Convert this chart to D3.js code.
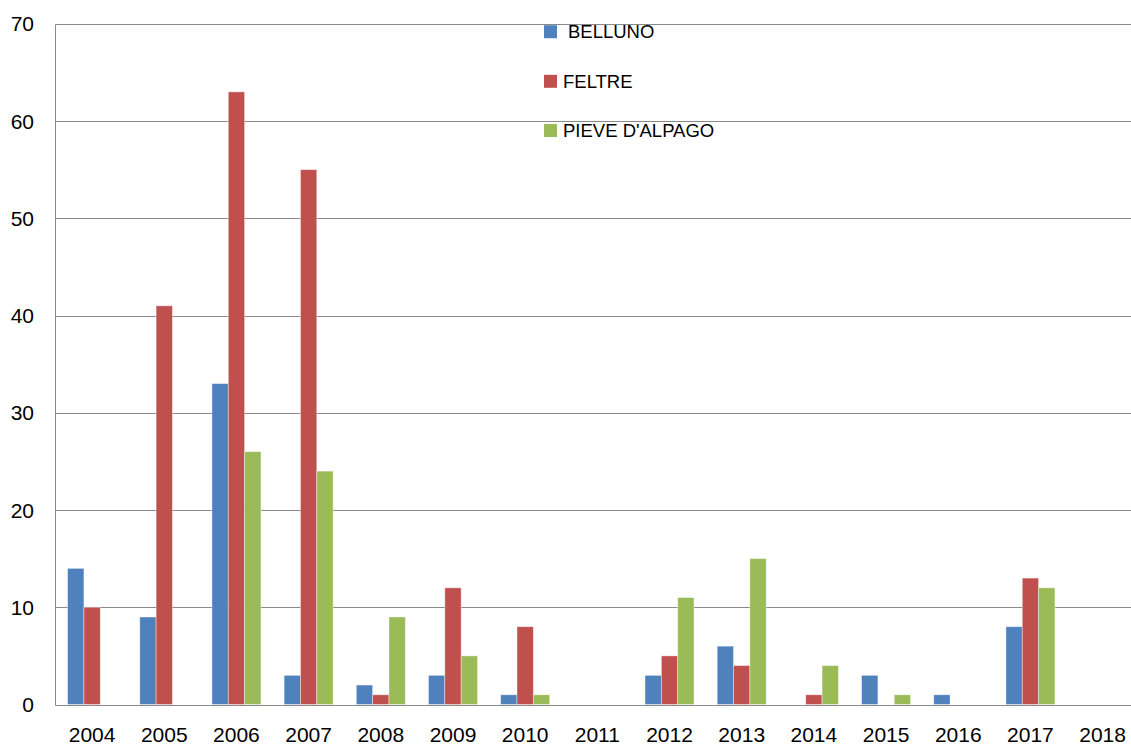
<!DOCTYPE html>
<html>
<head>
<meta charset="utf-8">
<script src="https://cdn.jsdelivr.net/npm/d3@7"></script>
<style>
  html, body { margin: 0; padding: 0; background: #fff; }
  svg { display: block; }
  text { font-family: "Liberation Sans", Arial, sans-serif; fill: #000; }
</style>
</head>
<body>
<svg id="chart" width="1131" height="745"></svg>
<script>
const years = ["2004","2005","2006","2007","2008","2009","2010","2011","2012","2013","2014","2015","2016","2017","2018"];
const seriesNames = ["BELLUNO", "FELTRE", "PIEVE D'ALPAGO"];
const belluno = [14, 9, 33, 3, 2, 3, 1, 0, 3, 6, 0, 3, 1, 8, 0];
const feltre  = [10, 41, 63, 55, 1, 12, 8, 0, 5, 4, 1, 0, 0, 13, 0];
const pieve   = [0, 0, 26, 24, 9, 5, 1, 0, 11, 15, 4, 1, 0, 12, 0];
const yTicks = [0, 10, 20, 30, 40, 50, 60, 70];
const colors = ["#4F81BD", "#C0504D", "#9BBB59"];

const allSeries = [belluno, feltre, pieve];

const svg = d3.select("#chart");
const W = 1131, H = 745;
const x0 = 56, step = 72.18;
const yTop = 23.8, yBot = 704.5;

const x = d3.scaleBand()
  .domain(years)
  .range([x0, x0 + step * years.length])
  .paddingInner(0.321)
  .paddingOuter(0.1605);

const xs = d3.scaleBand()
  .domain(d3.range(seriesNames.length))
  .range([0, x.bandwidth()]);

const y = d3.scaleLinear().domain([0, 70]).range([yBot, yTop]);

// gridlines
svg.append("g")
  .selectAll("line")
  .data(yTicks)
  .join("line")
  .attr("x1", x0 - 0.5)
  .attr("x2", W)
  .attr("y1", d => Math.round(y(d)) + 0.5)
  .attr("y2", d => Math.round(y(d)) + 0.5)
  .attr("stroke", "#8a8a8a")
  .attr("stroke-width", 1);

// y axis line
svg.append("line")
  .attr("x1", x0 - 0.5).attr("x2", x0 - 0.5)
  .attr("y1", Math.round(y(70)) + 0.5).attr("y2", Math.round(y(0)) + 0.5)
  .attr("stroke", "#8a8a8a").attr("stroke-width", 1);

// y labels
svg.append("g")
  .selectAll("text")
  .data(yTicks)
  .join("text")
  .attr("x", 34)
  .attr("y", d => y(d))
  .attr("dy", "0.36em")
  .attr("text-anchor", "end")
  .style("font-size", "21px")
  .text(d => d);

// bars
const groups = svg.append("g")
  .selectAll("g")
  .data(allSeries)
  .join("g")
  .attr("fill", (d, i) => colors[i]);

groups.each(function(vals, si) {
  d3.select(this).selectAll("rect")
    .data(vals.map((v, i) => ({ year: years[i], v })).filter(d => d.v > 0))
    .join("rect")
    .attr("x", d => x(d.year) + xs(si))
    .attr("width", xs.bandwidth())
    .attr("y", d => y(d.v))
    .attr("height", d => y(0) - y(d.v))
    .attr("stroke", "rgba(255,255,255,0.5)")
    .attr("stroke-width", 0.8);
});

// x labels
svg.append("g")
  .selectAll("text")
  .data(years)
  .join("text")
  .attr("x", d => x(d) + x.bandwidth() / 2)
  .attr("y", 742)
  .attr("text-anchor", "middle")
  .style("font-size", "21px")
  .text(d => d);

// legend
const legendRows = [
  { name: seriesNames[0], color: colors[0], cy: 31.7, tx: 568 },
  { name: seriesNames[1], color: colors[1], cy: 81.3, tx: 563 },
  { name: seriesNames[2], color: colors[2], cy: 130.5, tx: 563 }
];
const lg = svg.append("g");
lg.selectAll("rect")
  .data(legendRows)
  .join("rect")
  .attr("x", 544)
  .attr("y", d => d.cy - 6.5)
  .attr("width", 13)
  .attr("height", 13)
  .attr("fill", d => d.color);
lg.selectAll("text")
  .data(legendRows)
  .join("text")
  .attr("x", d => d.tx)
  .attr("y", d => d.cy)
  .attr("dy", "0.36em")
  .style("font-size", "18.5px")
  .text(d => d.name);
</script>
</body>
</html>
